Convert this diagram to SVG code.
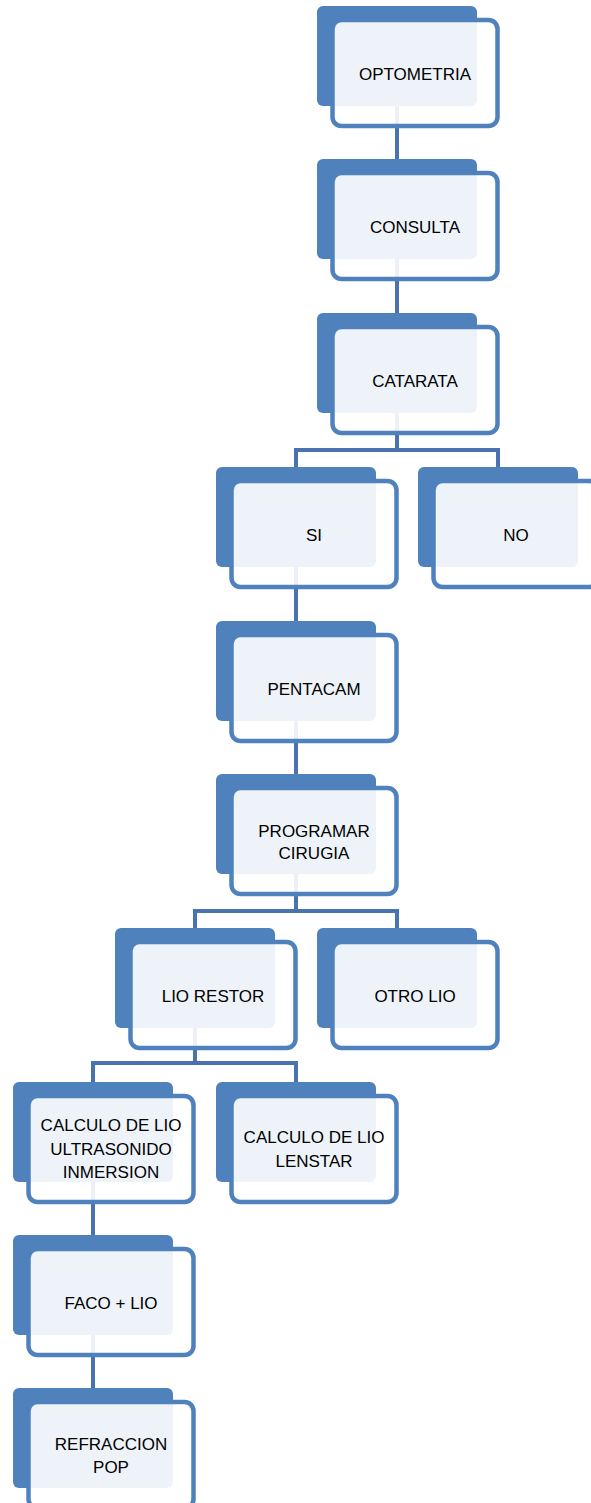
<svg xmlns="http://www.w3.org/2000/svg" width="591" height="1503" viewBox="0 0 591 1503">
<style>
.back{fill:#4F81BD;}
.front{fill:#FFFFFF;fill-opacity:0.9;stroke:#4F81BD;stroke-width:4.5;}
.con{fill:none;stroke:#4873AE;stroke-width:4;stroke-linejoin:miter;}
.t{font-family:"Liberation Sans",Arial,sans-serif;font-size:17px;fill:#000;text-anchor:middle;}
</style>
<rect width="591" height="1503" fill="#FFFFFF"/>
<g id="connectors">
<path class="con" d="M397,106V159"/>
<path class="con" d="M397,259V313"/>
<path class="con" d="M397,413V450"/>
<path class="con" d="M296,467V450H498V467"/>
<path class="con" d="M296,567V621"/>
<path class="con" d="M296,721V774"/>
<path class="con" d="M296,874V911"/>
<path class="con" d="M195,928V911H397V928"/>
<path class="con" d="M195,1028V1063"/>
<path class="con" d="M93,1082V1063H296V1082"/>
<path class="con" d="M93,1182V1235"/>
<path class="con" d="M93,1335V1388"/>
</g>
<g id="optometria">
<rect class="back" x="317" y="6" width="160" height="100" rx="6"/>
<rect class="front" x="332.5" y="20" width="165" height="106" rx="9"/>
<text class="t" x="415" y="80">OPTOMETRIA</text>
</g>
<g id="consulta">
<rect class="back" x="317" y="159" width="160" height="100" rx="6"/>
<rect class="front" x="332.5" y="173" width="165" height="106" rx="9"/>
<text class="t" x="415" y="233">CONSULTA</text>
</g>
<g id="catarata">
<rect class="back" x="317" y="313" width="160" height="100" rx="6"/>
<rect class="front" x="332.5" y="327" width="165" height="106" rx="9"/>
<text class="t" x="415" y="387">CATARATA</text>
</g>
<g id="si">
<rect class="back" x="216" y="467" width="160" height="100" rx="6"/>
<rect class="front" x="231.5" y="481" width="165" height="106" rx="9"/>
<text class="t" x="314" y="541">SI</text>
</g>
<g id="no">
<rect class="back" x="418" y="467" width="160" height="100" rx="6"/>
<rect class="front" x="433.5" y="481" width="165" height="106" rx="9"/>
<text class="t" x="516" y="541">NO</text>
</g>
<g id="pentacam">
<rect class="back" x="216" y="621" width="160" height="100" rx="6"/>
<rect class="front" x="231.5" y="635" width="165" height="106" rx="9"/>
<text class="t" x="314" y="695">PENTACAM</text>
</g>
<g id="programar-cirugia">
<rect class="back" x="216" y="774" width="160" height="100" rx="6"/>
<rect class="front" x="231.5" y="788" width="165" height="106" rx="9"/>
<text class="t" x="314" y="836.5">PROGRAMAR</text>
<text class="t" x="314" y="859">CIRUGIA</text>
</g>
<g id="lio-restor">
<rect class="back" x="115" y="928" width="160" height="100" rx="6"/>
<rect class="front" x="130.5" y="942" width="165" height="106" rx="9"/>
<text class="t" x="213" y="1002">LIO RESTOR</text>
</g>
<g id="otro-lio">
<rect class="back" x="317" y="928" width="160" height="100" rx="6"/>
<rect class="front" x="332.5" y="942" width="165" height="106" rx="9"/>
<text class="t" x="415" y="1002">OTRO LIO</text>
</g>
<g id="calculo-ultrasonido">
<rect class="back" x="13" y="1082" width="160" height="100" rx="6"/>
<rect class="front" x="28.5" y="1096" width="165" height="106" rx="9"/>
<text class="t" x="111" y="1131">CALCULO DE LIO</text>
<text class="t" x="111" y="1155">ULTRASONIDO</text>
<text class="t" x="111" y="1178">INMERSION</text>
</g>
<g id="calculo-lenstar">
<rect class="back" x="216" y="1082" width="160" height="100" rx="6"/>
<rect class="front" x="231.5" y="1096" width="165" height="106" rx="9"/>
<text class="t" x="314" y="1143">CALCULO DE LIO</text>
<text class="t" x="314" y="1167">LENSTAR</text>
</g>
<g id="faco-lio">
<rect class="back" x="13" y="1235" width="160" height="100" rx="6"/>
<rect class="front" x="28.5" y="1249" width="165" height="106" rx="9"/>
<text class="t" x="111" y="1309">FACO + LIO</text>
</g>
<g id="refraccion-pop">
<rect class="back" x="13" y="1388" width="160" height="100" rx="6"/>
<rect class="front" x="28.5" y="1402" width="165" height="106" rx="9"/>
<text class="t" x="111" y="1450">REFRACCION</text>
<text class="t" x="111" y="1473">POP</text>
</g>
</svg>
